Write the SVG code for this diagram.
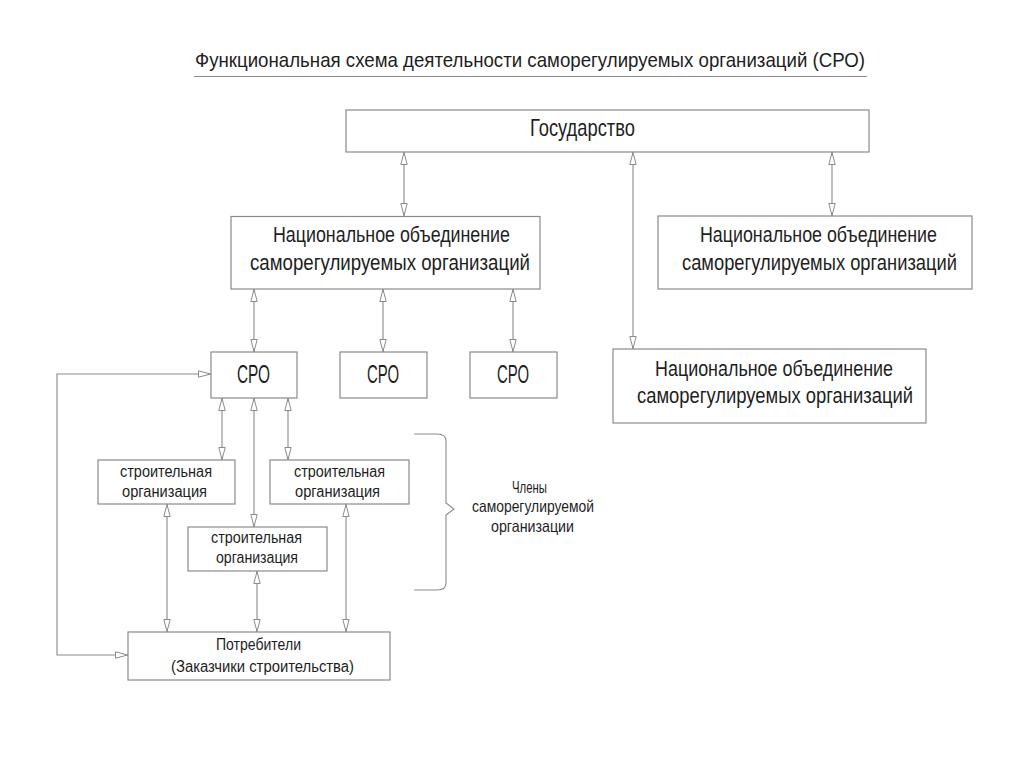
<svg xmlns="http://www.w3.org/2000/svg" width="1024" height="767" viewBox="0 0 1024 767">
<style>
.box{fill:#fff;stroke:#8a8a8a;stroke-width:1.2}
.ln{fill:none;stroke:#8a8a8a;stroke-width:1.1}
text{font-family:"Liberation Sans","DejaVu Sans",sans-serif;fill:#1e1e1e}
.t20{font-size:21px}
.t23{font-size:24px}
.t21{font-size:22px}
.t26{font-size:26px}
.t15{font-size:16px}
.t16{font-size:16.5px}
</style>
<defs>
<marker id="ah" viewBox="0 0 13 8" refX="13" refY="4" markerWidth="13" markerHeight="8" markerUnits="userSpaceOnUse" orient="auto-start-reverse">
<path d="M0.5,0.8 L12.5,4 L0.5,7.2 Z" fill="#fff" stroke="#8a8a8a" stroke-width="1"/>
</marker>
</defs>
<rect width="1024" height="767" fill="#fff"/>
<g id="title">
<text class="t20" x="195" y="67" textLength="670" lengthAdjust="spacingAndGlyphs">Функциональная схема деятельности саморегулируемых организаций (СРО)</text>
<line x1="194" y1="76.5" x2="867" y2="76.5" stroke="#8a8a8a" stroke-width="1.2"/>
</g>
<g id="connectors">
<line class="ln" x1="404" y1="152" x2="404" y2="216" marker-start="url(#ah)" marker-end="url(#ah)"/>
<line class="ln" x1="633" y1="152" x2="633" y2="349" marker-start="url(#ah)" marker-end="url(#ah)"/>
<line class="ln" x1="832" y1="152" x2="832" y2="216" marker-start="url(#ah)" marker-end="url(#ah)"/>
<line class="ln" x1="254" y1="289" x2="254" y2="352" marker-start="url(#ah)" marker-end="url(#ah)"/>
<line class="ln" x1="383" y1="289" x2="383" y2="352" marker-start="url(#ah)" marker-end="url(#ah)"/>
<line class="ln" x1="513" y1="289" x2="513" y2="352" marker-start="url(#ah)" marker-end="url(#ah)"/>
<line class="ln" x1="222" y1="398" x2="222" y2="460" marker-start="url(#ah)" marker-end="url(#ah)"/>
<line class="ln" x1="254" y1="398" x2="254" y2="527" marker-start="url(#ah)" marker-end="url(#ah)"/>
<line class="ln" x1="288" y1="398" x2="288" y2="460" marker-start="url(#ah)" marker-end="url(#ah)"/>
<line class="ln" x1="167" y1="504" x2="167" y2="632" marker-start="url(#ah)" marker-end="url(#ah)"/>
<line class="ln" x1="257" y1="571" x2="257" y2="632" marker-start="url(#ah)" marker-end="url(#ah)"/>
<line class="ln" x1="346" y1="504" x2="346" y2="632" marker-start="url(#ah)" marker-end="url(#ah)"/>
<path class="ln" d="M211,374 H57 V655 H128" marker-start="url(#ah)" marker-end="url(#ah)"/>
</g>
<g id="gosudarstvo">
<rect class="box" x="346" y="110" width="523" height="42"/>
<text class="t23" x="530" y="136" textLength="105" lengthAdjust="spacingAndGlyphs">Государство</text>
</g>
<g id="nosro1">
<rect class="box" x="231" y="216.5" width="309" height="72.5"/>
<text class="t21" x="273" y="242" textLength="237" lengthAdjust="spacingAndGlyphs">Национальное объединение</text>
<text class="t21" x="250" y="270" textLength="280" lengthAdjust="spacingAndGlyphs">саморегулируемых организаций</text>
</g>
<g id="nosro2">
<rect class="box" x="658" y="216" width="314" height="73"/>
<text class="t21" x="700" y="242" textLength="237" lengthAdjust="spacingAndGlyphs">Национальное объединение</text>
<text class="t21" x="682" y="270" textLength="275" lengthAdjust="spacingAndGlyphs">саморегулируемых организаций</text>
</g>
<g id="nosro3">
<rect class="box" x="613" y="349" width="313" height="74"/>
<text class="t21" x="655" y="376" textLength="238" lengthAdjust="spacingAndGlyphs">Национальное объединение</text>
<text class="t21" x="637" y="403" textLength="276" lengthAdjust="spacingAndGlyphs">саморегулируемых организаций</text>
</g>
<g id="sro1">
<rect class="box" x="211" y="352" width="86" height="46"/>
<text class="t26" x="237" y="383" textLength="33" lengthAdjust="spacingAndGlyphs">СРО</text>
</g>
<g id="sro2">
<rect class="box" x="340" y="352" width="87" height="46"/>
<text class="t26" x="367" y="383" textLength="32" lengthAdjust="spacingAndGlyphs">СРО</text>
</g>
<g id="sro3">
<rect class="box" x="470" y="352" width="87" height="46"/>
<text class="t26" x="497" y="383" textLength="32" lengthAdjust="spacingAndGlyphs">СРО</text>
</g>
<g id="org1">
<rect class="box" x="98" y="460" width="137" height="44"/>
<text class="t15" x="120" y="477" textLength="92" lengthAdjust="spacingAndGlyphs">строительная</text>
<text class="t15" x="122" y="497" textLength="85" lengthAdjust="spacingAndGlyphs">организация</text>
</g>
<g id="org2">
<rect class="box" x="270" y="460" width="139" height="44"/>
<text class="t15" x="294" y="477" textLength="91" lengthAdjust="spacingAndGlyphs">строительная</text>
<text class="t15" x="295" y="497" textLength="85" lengthAdjust="spacingAndGlyphs">организация</text>
</g>
<g id="org3">
<rect class="box" x="188" y="527" width="139" height="44"/>
<text class="t15" x="211" y="543" textLength="91" lengthAdjust="spacingAndGlyphs">строительная</text>
<text class="t15" x="216" y="563" textLength="82" lengthAdjust="spacingAndGlyphs">организация</text>
</g>
<g id="consumers">
<rect class="box" x="128" y="632" width="262" height="48"/>
<text class="t15" x="216" y="650" textLength="85" lengthAdjust="spacingAndGlyphs">Потребители</text>
<text class="t15" x="171" y="672" textLength="183" lengthAdjust="spacingAndGlyphs">(Заказчики строительства)</text>
</g>
<g id="members">
<path class="ln" d="M414,434 H437 Q446,434 446,441 V503 L454,509 L446,515 V583 Q446,590 437,590 H414"/>
<text class="t16" x="512" y="493" textLength="35" lengthAdjust="spacingAndGlyphs">Члены</text>
<text class="t16" x="472" y="512" textLength="122" lengthAdjust="spacingAndGlyphs">саморегулируемой</text>
<text class="t16" x="491" y="532" textLength="83" lengthAdjust="spacingAndGlyphs">организации</text>
</g>
</svg>
